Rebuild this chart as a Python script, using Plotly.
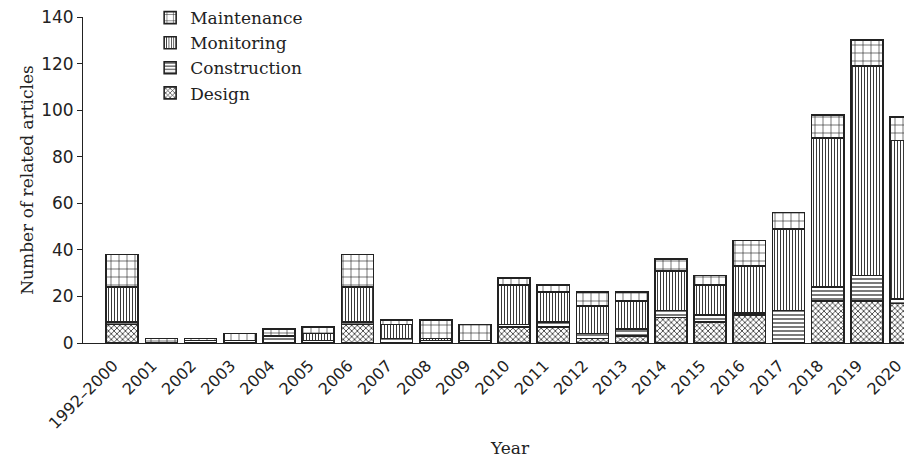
import plotly.graph_objects as go

years = ["1992–2000", "2001", "2002", "2003", "2004", "2005", "2006", "2007", "2008", "2009",
         "2010", "2011", "2012", "2013", "2014", "2015", "2016", "2017", "2018", "2019", "2020"]
design       = [8, 0, 0, 0, 0, 0, 8, 0, 0, 0, 7, 7, 2, 3, 11, 9, 12, 0, 18, 18, 17]
construction = [1, 0, 1, 1, 3, 1, 1, 2, 1, 1, 1, 2, 2, 3, 3, 3, 1, 14, 6, 11, 2]
monitoring   = [15, 0, 0, 0, 0, 3, 15, 6, 1, 0, 17, 13, 12, 12, 17, 13, 20, 35, 64, 90, 68]
maintenance  = [14, 2, 1, 3, 3, 3, 14, 2, 8, 7, 3, 3, 6, 4, 5, 4, 11, 7, 10, 11, 10]

series = [
    ("Design", design, "x", 4, 0.35),
    ("Construction", construction, "-", 4, 0.3),
    ("Monitoring", monitoring, "|", 3, 0.3),
    ("Maintenance", maintenance, "+", 8, 0.15),
]

fig = go.Figure()
for name, vals, shape, size, sol in series:
    fig.add_trace(go.Bar(
        x=years, y=vals, name=name,
        marker=dict(color="white",
                    line=dict(color="#222", width=1.6),
                    pattern=dict(shape=shape, size=size, solidity=sol,
                                 fgcolor="#222", bgcolor="white", fillmode="replace")),
    ))

serif = "DejaVu Serif"
fig.update_layout(
    width=912, height=460,
    margin=dict(l=75, r=8, t=9, b=125, autoexpand=False),
    barmode="stack", bargap=0.18,
    plot_bgcolor="white", paper_bgcolor="white",
    showlegend=True,
    legend=dict(x=0.081, y=1.052, xanchor="left", yanchor="top",
                traceorder="reversed", font=dict(family=serif, size=17, color="#222"),
                bgcolor="rgba(0,0,0,0)", tracegroupgap=0),
    xaxis=dict(range=[-1, 20.15], showline=True, linecolor="#222", linewidth=1,
               ticks="", tickangle=-45, showgrid=False, ticklabeloverflow="allow",
               ticklabelshift=-9, ticklabelstandoff=6,
               tickfont=dict(family="DejaVu Sans", size=16, color="#222"), automargin=False),
    yaxis=dict(range=[0, 140], dtick=20, showline=True, linecolor="#222", linewidth=1,
               ticks="outside", ticklen=5, tickcolor="#222", showgrid=False, zeroline=False,
               ticklabeloverflow="allow",
               tickfont=dict(family="DejaVu Sans", size=17, color="#222"),
               title=dict(text="Number of related articles", standoff=3,
                          font=dict(family=serif, size=17, color="#222")),
               automargin=False),
    annotations=[dict(text="Year", xref="paper", yref="paper", x=0.515, y=-0.3225,
                      xanchor="center", yanchor="middle", showarrow=False,
                      font=dict(family=serif, size=17, color="#222"))],
)

fig.write_html("out.html")
